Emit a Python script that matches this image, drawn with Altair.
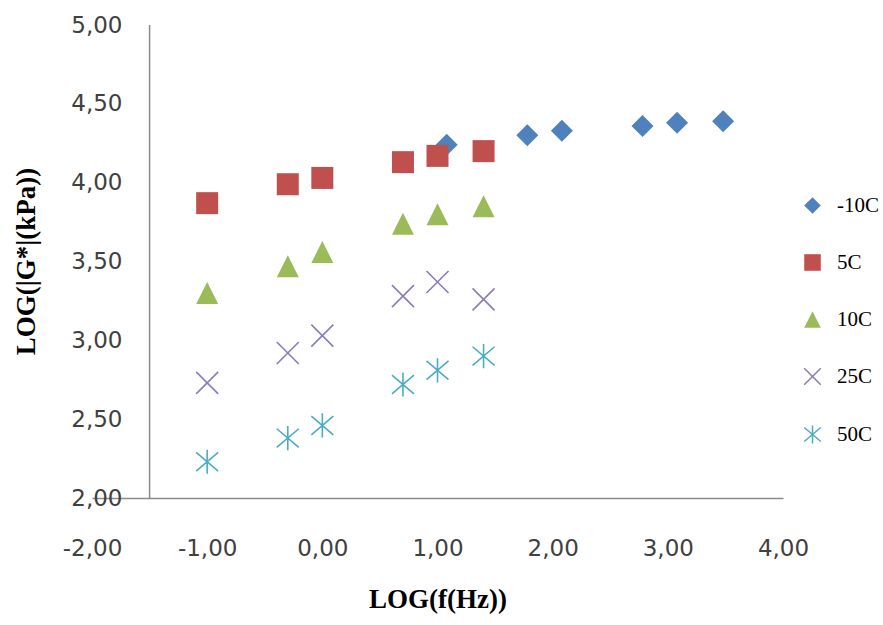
import altair as alt
import pandas as pd

# ---- data ----
series = ["-10C", "5C", "10C", "25C", "50C"]
log_f = [-1.0, -0.3, 0.0, 0.7, 1.0, 1.4]
log_f_m10 = [1.08, 1.78, 2.08, 2.78, 3.08, 3.48]
g_m10 = [4.24, 4.30, 4.33, 4.36, 4.38, 4.39]
g_5 = [3.87, 3.99, 4.03, 4.13, 4.17, 4.20]
g_10 = [3.30, 3.47, 3.56, 3.74, 3.80, 3.85]
g_25 = [2.73, 2.92, 3.03, 3.28, 3.37, 3.26]
g_50 = [2.23, 2.38, 2.46, 2.72, 2.81, 2.90]

x_ticks = [-2, -1, 0, 1, 2, 3, 4]
y_ticks = [2.0, 2.5, 3.0, 3.5, 4.0, 4.5, 5.0]
y_axis_crosses_at = -1.5

colors = ["#4F81BD", "#C0504D", "#9BBB59", "#8C7BB8", "#4BACC6"]

rows = []
for name, xs, ys in [("-10C", log_f_m10, g_m10), ("5C", log_f, g_5), ("10C", log_f, g_10),
                     ("25C", log_f, g_25), ("50C", log_f, g_50)]:
    for xv, yv in zip(xs, ys):
        rows.append({"series": name, "x": xv, "y": yv})
df = pd.DataFrame(rows)

TRI = "M0,-1L1,1L-1,1Z"
XPATH = "M-1,-1L1,1M-1,1L1,-1"
STAR = "M-1,-0.85L1,0.85M-1,0.85L1,-0.85M0,-1.1L0,1.1"

xscale = alt.Scale(domain=[-2, 4], nice=False, zero=False)
yscale = alt.Scale(domain=[2, 5], nice=False, zero=False)

label_expr = "(datum.value < 0 ? '-' : '') + replace(format(abs(datum.value), '.2f'), '.', ',')"

legend = alt.Legend(
    title=None, orient="none", legendX=710, legendY=170, padding=0,
    symbolSize=275, symbolStrokeWidth=1.5, labelFont="Liberation Serif",
    labelFontSize=21, labelColor="black", labelOffset=14, rowPadding=34,
)

x_axis = alt.Axis(
    values=x_ticks, labelExpr=label_expr, grid=False, ticks=False, tickSize=0,
    domainColor="#8a8a8a", domainWidth=1.5, labelFont="DejaVu Sans", labelFontSize=23,
    labelColor="#404040", labelPadding=57, labelBaseline="alphabetic",
    labelFlush=False, labelOverlap=False,
    title="LOG(f(Hz))", titleFont="Liberation Serif", titleFontSize=27,
    titleFontWeight="bold", titleColor="black", titleY=109, titleBaseline="alphabetic",
)
y_axis = alt.Axis(
    values=y_ticks, labelExpr=label_expr, grid=False, ticks=False, tickSize=0,
    domain=False, labelFont="DejaVu Sans", labelFontSize=23, labelColor="#404040",
    labelPadding=-30, labelAlign="right", labelFlush=False, labelOverlap=False,
    title="LOG(|G*|(kPa))", titleFont="Liberation Serif", titleFontSize=27,
    titleFontWeight="bold", titleColor="black", titleX=-58, titleY=236,
    titleAngle=270, titleAlign="center", titleBaseline="alphabetic",
)

points = alt.Chart(df).mark_point(opacity=1, size=484, strokeWidth=1.6).encode(
    x=alt.X("x:Q", scale=xscale, axis=x_axis),
    y=alt.Y("y:Q", scale=yscale, axis=y_axis),
    shape=alt.Shape("series:N", sort=series,
                    scale=alt.Scale(domain=series, range=["diamond", "square", TRI, XPATH, STAR]),
                    legend=legend),
    fill=alt.Fill("series:N", sort=series,
                  scale=alt.Scale(domain=series, range=colors[:3] + ["transparent", "transparent"]),
                  legend=legend),
    stroke=alt.Stroke("series:N", sort=series,
                      scale=alt.Scale(domain=series, range=["transparent"] * 3 + colors[3:]),
                      legend=legend),
)

vline_df = pd.DataFrame({"x": [y_axis_crosses_at], "y": [2.0], "y2": [5.0]})
vline = alt.Chart(vline_df).mark_rule(color="#8a8a8a", strokeWidth=1.5).encode(
    x=alt.X("x:Q", scale=xscale, axis=x_axis),
    y=alt.Y("y:Q", scale=yscale, axis=y_axis),
    y2="y2:Q",
)

chart = alt.layer(vline, points).properties(
    width=691, height=473,
    padding={"left": 92, "top": 25, "right": 100, "bottom": 127},
    autosize=alt.AutoSizeParams(type="none"),
    background="white",
).configure_view(stroke=None)

chart.save("out.html", embed_options={"renderer": "svg", "actions": False})
